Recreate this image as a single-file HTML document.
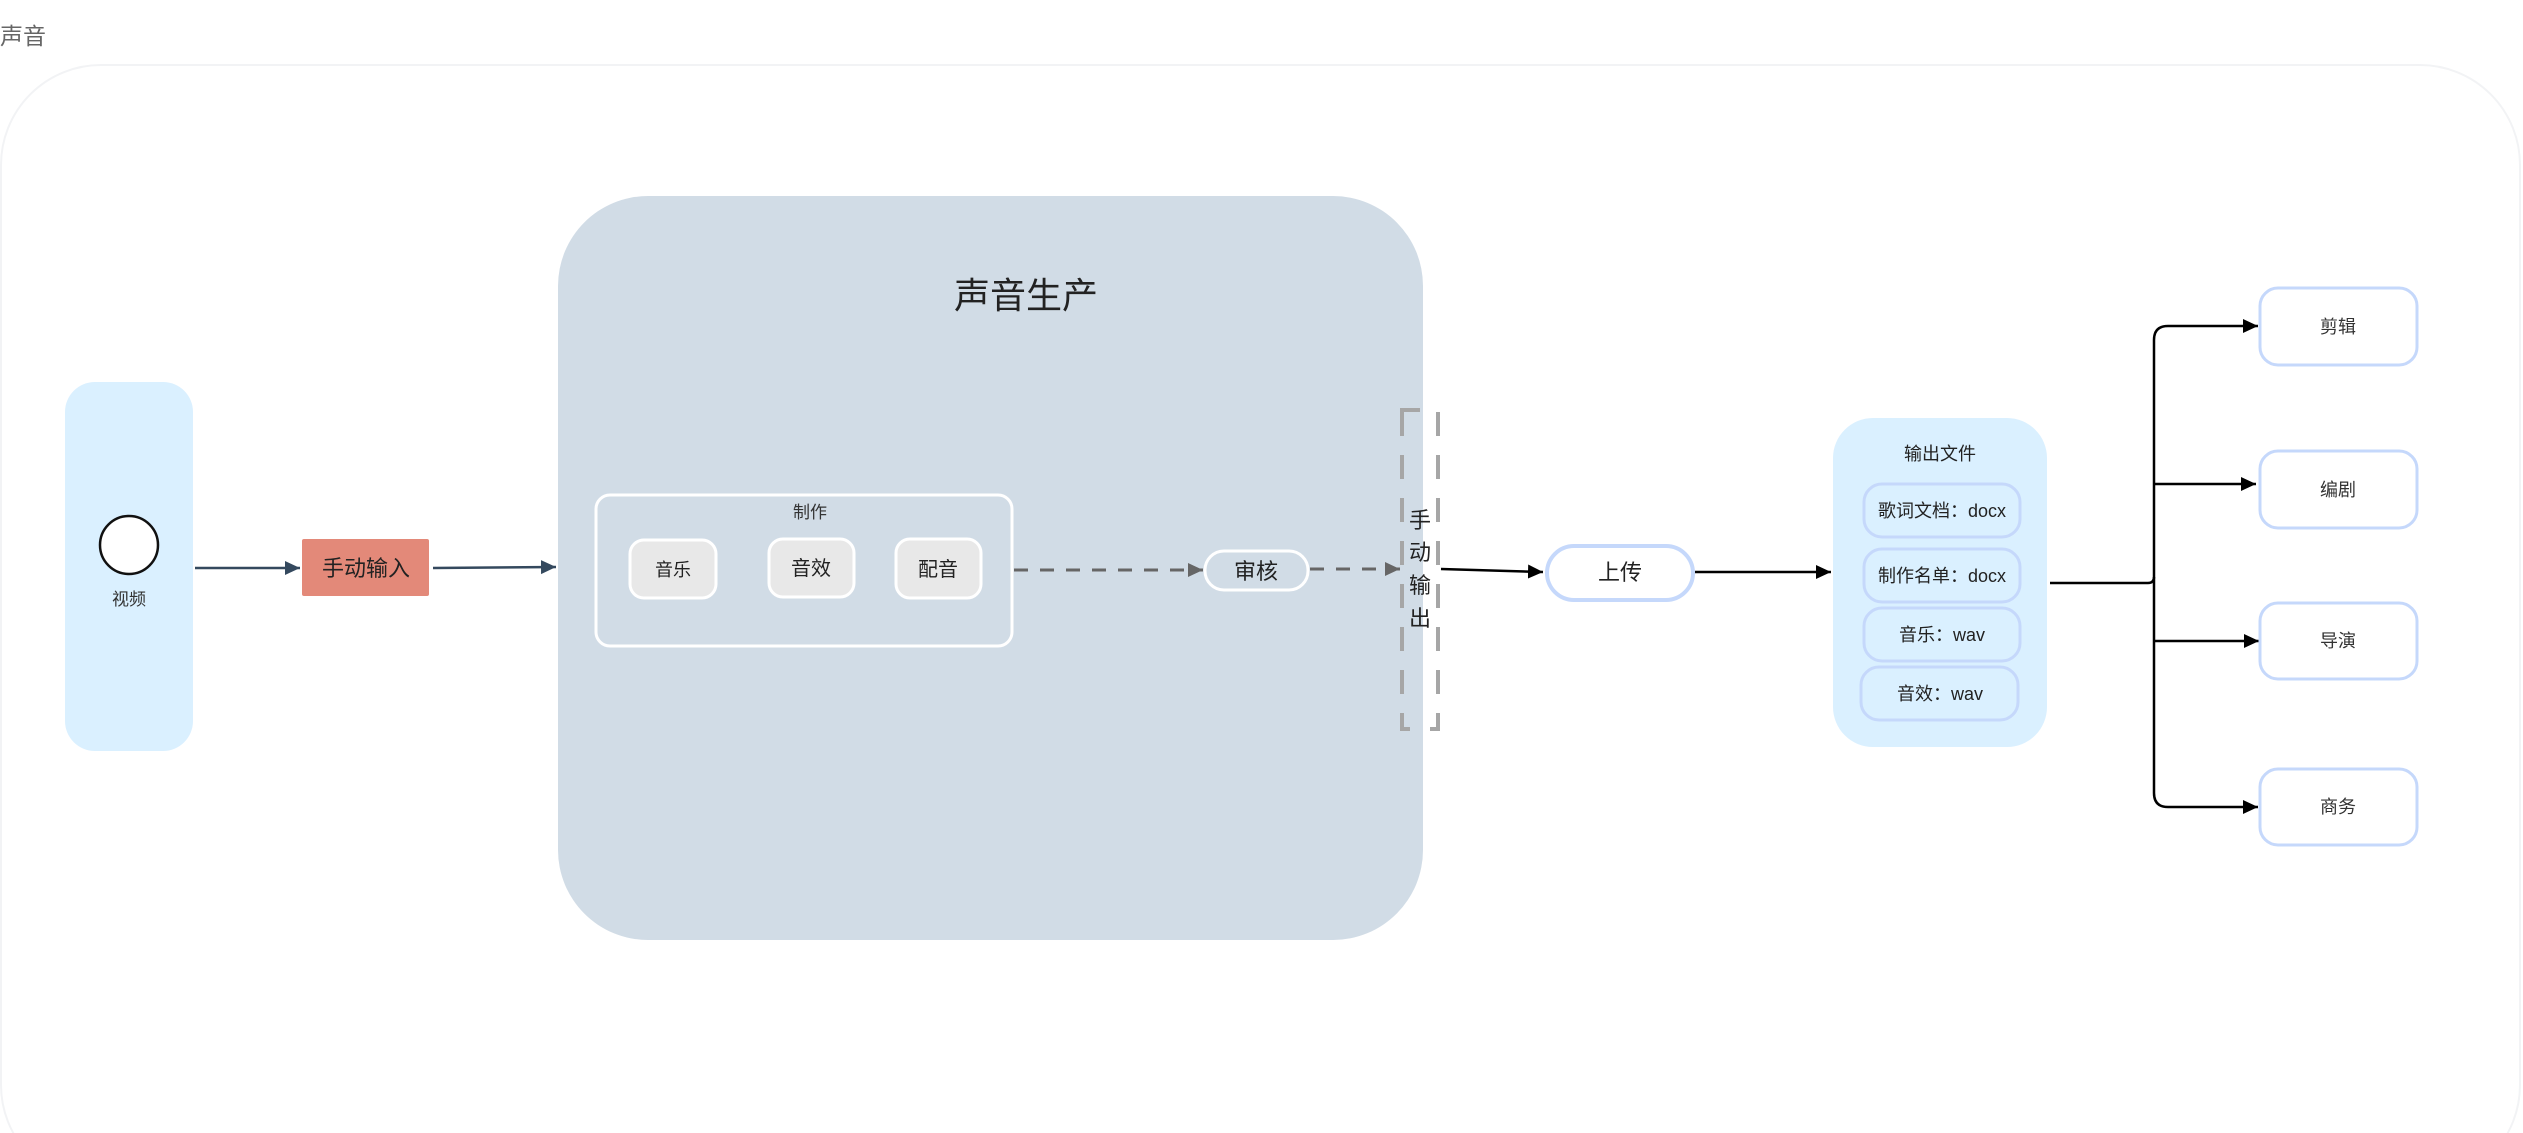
<!DOCTYPE html>
<html><head><meta charset="utf-8"><style>
html,body{margin:0;padding:0;background:#fff;}
svg{display:block;}
text{font-family:"Liberation Sans","Noto Sans CJK SC",sans-serif;}
</style></head><body>
<svg width="2523" height="1133" viewBox="0 0 2523 1133" xmlns="http://www.w3.org/2000/svg">
<defs>
<marker id="ab" markerWidth="10" markerHeight="10" refX="9" refY="5" orient="auto" markerUnits="userSpaceOnUse"><path d="M0,0 L16,5 L0,10 z" transform="scale(0.6,1)" fill="#34495e"/></marker>
<marker id="ak" markerWidth="16" markerHeight="16" refX="15" refY="8" orient="auto" markerUnits="userSpaceOnUse"><path d="M0,1 L15,8 L0,15 z" fill="#000"/></marker>
<marker id="ag" markerWidth="16" markerHeight="16" refX="15" refY="8" orient="auto" markerUnits="userSpaceOnUse"><path d="M0,1 L15,8 L0,15 z" fill="#666"/></marker>
<marker id="abl" markerWidth="16" markerHeight="16" refX="15" refY="8" orient="auto" markerUnits="userSpaceOnUse"><path d="M0,1 L15,8 L0,15 z" fill="#34495e"/></marker>
</defs>
<text x="0" y="44" font-size="23" fill="#666">声音</text>
<rect x="1" y="65" width="2519" height="1120" rx="100" fill="#fff" stroke="#f2f3f5" stroke-width="2"/>

<!-- video lane -->
<rect x="65" y="382" width="128" height="369" rx="30" fill="#daf0ff"/>
<circle cx="129" cy="545" r="29" fill="#fff" stroke="#111" stroke-width="2.5"/>
<text x="129" y="605" font-size="17" fill="#333" text-anchor="middle">视频</text>

<line x1="195" y1="568" x2="300" y2="568" stroke="#34495e" stroke-width="2.5" marker-end="url(#abl)"/>
<rect x="302" y="539" width="127" height="57" rx="2" fill="#e38979"/>
<text x="366" y="576" font-size="22" fill="#222" text-anchor="middle">手动输入</text>
<line x1="433" y1="568" x2="556" y2="567" stroke="#34495e" stroke-width="2.5" marker-end="url(#abl)"/>

<!-- production -->
<rect x="558" y="196" width="865" height="744" rx="90" fill="#d1dce6"/>
<text x="1026" y="308" font-size="36" fill="#222" text-anchor="middle">声音生产</text>
<rect x="596" y="495" width="416" height="151" rx="14" fill="none" stroke="#fff" stroke-width="3"/>
<text x="810" y="518" font-size="17" fill="#333" text-anchor="middle">制作</text>
<rect x="630" y="540" width="86" height="58" rx="14" fill="#e8e8e8" stroke="#fff" stroke-width="3"/>
<text x="673" y="576" font-size="18" fill="#222" text-anchor="middle">音乐</text>
<rect x="769" y="539" width="85" height="58" rx="14" fill="#e8e8e8" stroke="#fff" stroke-width="3"/>
<text x="811" y="575" font-size="20" fill="#222" text-anchor="middle">音效</text>
<rect x="896" y="539" width="85" height="59" rx="14" fill="#e8e8e8" stroke="#fff" stroke-width="3"/>
<text x="938" y="576" font-size="20" fill="#222" text-anchor="middle">配音</text>

<line x1="1014" y1="570" x2="1203" y2="570" stroke="#666" stroke-width="3" stroke-dasharray="14 12" marker-end="url(#ag)"/>
<rect x="1205" y="551" width="103" height="39" rx="19" fill="#d1dce6" stroke="#fff" stroke-width="3"/>
<text x="1256" y="579" font-size="22" fill="#222" text-anchor="middle">审核</text>
<line x1="1310" y1="569" x2="1400" y2="569" stroke="#666" stroke-width="3" stroke-dasharray="14 12" marker-end="url(#ag)"/>

<!-- dashed output -->
<path d="M1402,412 V729 H1412" fill="none" stroke="#a6a6a6" stroke-width="4" stroke-dasharray="24 19"/>
<path d="M1400,410 H1420" stroke="#a6a6a6" stroke-width="4"/>
<path d="M1438,412 V729 H1430" fill="none" stroke="#a6a6a6" stroke-width="4" stroke-dasharray="24 19"/>
<g font-size="22" fill="#222" text-anchor="middle">
<text x="1420" y="528">手</text>
<text x="1420" y="560">动</text>
<text x="1420" y="593">输</text>
<text x="1420" y="626">出</text>
</g>

<line x1="1441" y1="569" x2="1543" y2="572" stroke="#000" stroke-width="2.5" marker-end="url(#ak)"/>
<rect x="1547" y="546" width="146" height="54" rx="27" fill="#fff" stroke="#c5d8fb" stroke-width="4"/>
<text x="1620" y="580" font-size="22" fill="#222" text-anchor="middle">上传</text>
<line x1="1695" y1="572" x2="1831" y2="572" stroke="#000" stroke-width="2.5" marker-end="url(#ak)"/>

<!-- output files -->
<rect x="1833" y="418" width="214" height="329" rx="40" fill="#daf0ff"/>
<text x="1940" y="460" font-size="18" fill="#222" text-anchor="middle">输出文件</text>
<g fill="none" stroke="#c5d8fb" stroke-width="3">
<rect x="1864" y="484" width="156" height="53" rx="18"/>
<rect x="1864" y="549" width="156" height="53" rx="18"/>
<rect x="1864" y="608" width="156" height="53" rx="18"/>
<rect x="1861" y="667" width="157" height="53" rx="18"/>
</g>
<g font-size="18" fill="#222" text-anchor="middle">
<text x="1942" y="517">歌词文档：docx</text>
<text x="1942" y="582">制作名单：docx</text>
<text x="1942" y="641">音乐：wav</text>
<text x="1940" y="700">音效：wav</text>
</g>

<!-- fan-out -->
<g fill="none" stroke="#000" stroke-width="2.5">
<path d="M2050,583 H2148 Q2154,583 2154,577"/>
<path d="M2154,583 V340 Q2154,326 2168,326 H2258" marker-end="url(#ak)"/>
<path d="M2154,484 H2256" marker-end="url(#ak)"/>
<path d="M2154,641 H2259" marker-end="url(#ak)"/>
<path d="M2154,583 V793 Q2154,807 2168,807 H2258" marker-end="url(#ak)"/>
</g>
<g fill="#fff" stroke="#c5d8fb" stroke-width="3">
<rect x="2260" y="288" width="157" height="77" rx="18"/>
<rect x="2260" y="451" width="157" height="77" rx="18"/>
<rect x="2260" y="603" width="157" height="76" rx="18"/>
<rect x="2260" y="769" width="157" height="76" rx="18"/>
</g>
<g font-size="18" fill="#333" text-anchor="middle">
<text x="2338" y="333">剪辑</text>
<text x="2338" y="496">编剧</text>
<text x="2338" y="647">导演</text>
<text x="2338" y="813">商务</text>
</g>
</svg>
</body></html>
